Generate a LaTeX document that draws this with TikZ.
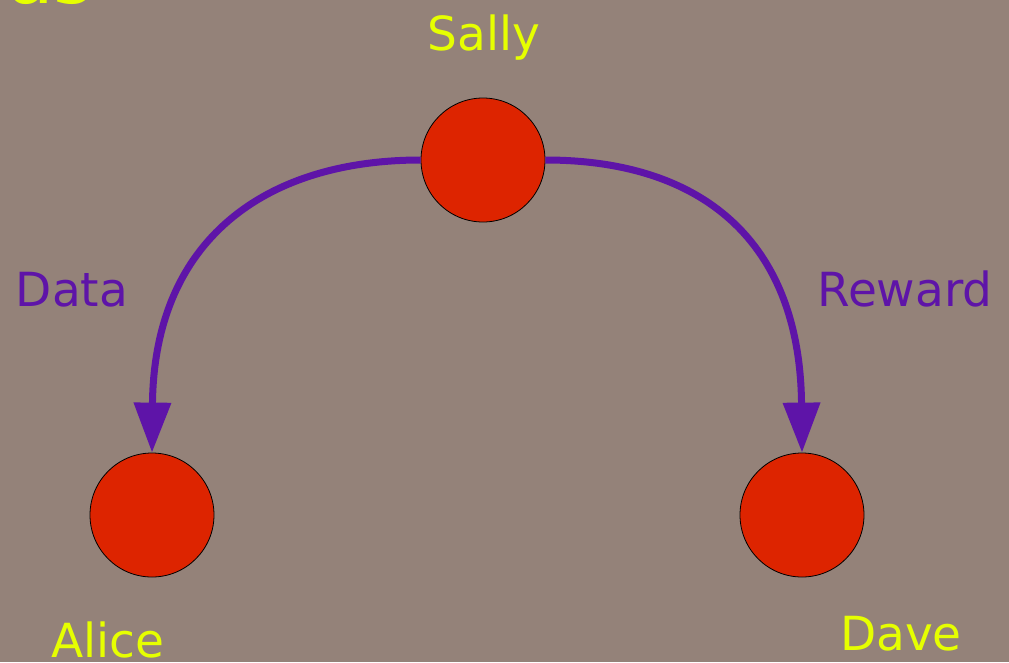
\documentclass[tikz,border=0pt]{standalone}
\usepackage{fontspec}
\setmainfont{DejaVu Sans}
\usetikzlibrary{arrows.meta}
\definecolor{bg}{RGB}{148,130,121}
\definecolor{nodered}{RGB}{221,36,0}
\definecolor{arrowpurple}{RGB}{94,20,168}
\definecolor{labelyellow}{RGB}{230,255,0}
\tikzset{
  person/.style={circle, draw=black, line width=0.8pt, fill=nodered, minimum size=124pt, inner sep=0pt},
  namelabel/.style={text=labelyellow, font=\fontsize{47}{56}\selectfont, inner sep=0pt, anchor=base},
  edgelabel/.style={text=arrowpurple, font=\fontsize{47}{56}\selectfont, inner sep=0pt, anchor=base},
  flow/.style={draw=arrowpurple, line width=7pt, -{Triangle[length=50pt,width=36pt]}}
}
\begin{document}
\begin{tikzpicture}[x=1pt,y=-1pt]
  \useasboundingbox (0,0) rectangle (1009,662);
  \fill[bg] (0,0) rectangle (1009,662);
  \node[text=labelyellow, font=\fontsize{76}{84}\selectfont, inner sep=0pt, anchor=base west] (title) at (7,3) {as};
  \node[person] (sally) at (483,160) {};
  \node[person] (alice) at (152,515) {};
  \node[person] (dave) at (802,515) {};
  \node[namelabel] (sallyl) at (484,50) {Sally};
  \node[namelabel] (alicel) at (108,657) {Alice};
  \node[namelabel] (davel) at (901,650) {Dave};
  \node[edgelabel] (datal) at (72,306) {Data};
  \node[edgelabel] (rewardl) at (905,306) {Reward};
  \draw[flow] (sally.west) .. controls (265,160) and (154,240) .. (alice.north);
  \draw[flow] (sally.east) .. controls (701,160) and (800,240) .. (dave.north);
\end{tikzpicture}
\end{document}
